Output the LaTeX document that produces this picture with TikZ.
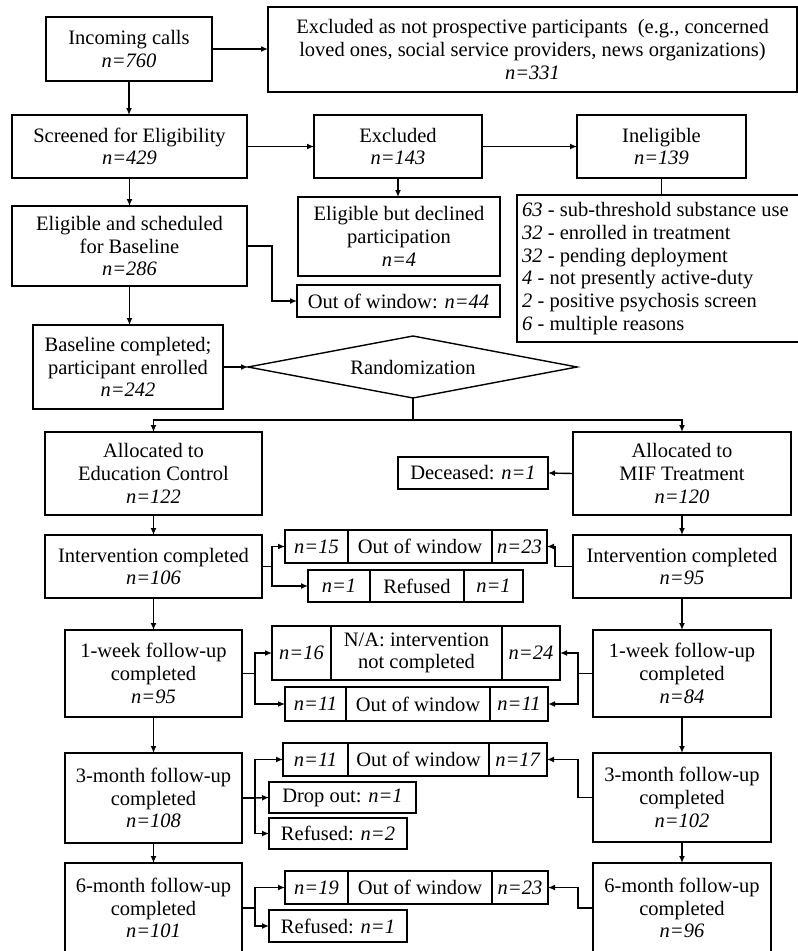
\documentclass[tikz,border=0pt]{standalone}
\usepackage{fontspec}
\setmainfont{Liberation Serif}
\usetikzlibrary{arrows.meta}
\tikzset{
  every node/.style={font=\fontsize{20.5}{22.7}\selectfont},
  box/.style={draw, line width=1.1pt, align=center, inner sep=0pt, outer sep=0pt},
  cellbox/.style={draw, line width=1.9pt, align=center, inner sep=0pt, outer sep=0pt},
  arr/.style={line width=1.4pt, -{Latex[length=7pt,width=6pt]}},
  lnk/.style={line width=1.4pt},
}
\newcommand\mybox[7][box]{\node[#1, minimum width={#5-#3}, minimum height={#6-#4}] (#2) at ({(#3+#5)/2},{(#4+#6)/2}) {#7};}
\begin{document}
\begin{tikzpicture}[x=1pt,y=-1pt]
\useasboundingbox (0,0) rectangle (798,951);
\fill[white] (0,0) rectangle (798,951);
% top part
\mybox{inc}{46}{17}{212}{81}{Incoming calls\\\textit{n=760}}
\mybox{exa}{268}{7}{797}{92}{Excluded as not prospective participants\ \ (e.g., concerned\\loved ones, social service providers, news organizations)\\\textit{n=331}}
\mybox{scr}{12}{115}{247}{178}{Screened for Eligibility\\\textit{n=429}}
\mybox{exb}{314}{115}{482}{178}{Excluded\\\textit{n=143}}
\mybox{inel}{577}{115}{746}{178}{Ineligible\\\textit{n=139}}
\mybox{elig}{12}{206}{247}{286}{Eligible and scheduled\\for Baseline\\\textit{n=286}}
\mybox{decl}{298}{197}{500}{276}{Eligible but declined\\participation\\\textit{n=4}}
\mybox{list}{517}{195}{806}{342}{}
\node[align=left, anchor=west, inner sep=0pt] (listtxt) at (522,268.5)
 {\textit{63} - sub-threshold substance use\\
  \textit{32} - enrolled in treatment\\
  \textit{32} - pending deployment\\
  \textit{4} - not presently active-duty\\
  \textit{2} - positive psychosis screen\\
  \textit{6} - multiple reasons};
\mybox{oow}{297}{285}{500}{317}{Out of window: \textit{n=44}}
\mybox{base}{33}{325}{223}{409}{Baseline completed;\\participant enrolled\\\textit{n=242}}
% randomization diamond
\coordinate (rl) at (248,367);
\coordinate (rt) at (413,336);
\coordinate (rr) at (577,367);
\coordinate (rb) at (413,398);
\draw[line width=1.4pt] (rl) -- (rt) -- (rr) -- (rb) -- cycle;
\node (rand) at (413,367) {Randomization};
% allocation
\mybox{allE}{45}{432}{262}{515}{Allocated to\\Education Control\\\textit{n=122}}
\mybox{allM}{573}{432}{791}{515}{Allocated to\\MIF Treatment\\\textit{n=120}}
\mybox{dec}{398}{457}{548}{489}{Deceased: \textit{n=1}}
\mybox{intL}{45}{535}{262}{598}{Intervention completed\\\textit{n=106}}
\mybox{intR}{573}{535}{791}{598}{Intervention completed\\\textit{n=95}}
\mybox{wkL}{65}{630}{242}{717}{1-week follow-up\\completed\\\textit{n=95}}
\mybox{wkR}{593}{630}{771}{717}{1-week follow-up\\completed\\\textit{n=84}}
\mybox{mtL}{65}{753}{242}{843}{3-month follow-up\\completed\\\textit{n=108}}
\mybox{mtR}{593}{753}{771}{842}{3-month follow-up\\completed\\\textit{n=102}}
\mybox{msL}{65}{863}{242}{953}{6-month follow-up\\completed\\\textit{n=101}}
\mybox{msR}{593}{863}{771}{953}{6-month follow-up\\completed\\\textit{n=96}}
\mybox{drop}{269}{782}{416}{813}{Drop out: \textit{n=1}}
\mybox{refB}{269}{818}{407}{849}{Refused: \textit{n=2}}
\mybox{refC}{269}{910}{407}{942}{Refused: \textit{n=1}}
% split boxes
\mybox[cellbox]{oAa}{285}{530}{348}{563}{\textit{n=15}}
\mybox[cellbox]{oAb}{348}{530}{492}{563}{Out of window}
\mybox[cellbox]{oAc}{492}{530}{547}{563}{\textit{n=23}}
\mybox[cellbox]{rAa}{308}{570}{370}{602}{\textit{n=1}}
\mybox[cellbox]{rAb}{370}{570}{464}{602}{Refused}
\mybox[cellbox]{rAc}{464}{570}{523}{602}{\textit{n=1}}
\mybox[cellbox]{naa}{272}{626}{331}{680}{\textit{n=16}}
\mybox[cellbox]{nab}{331}{626}{502}{680}{N/A: intervention\\not completed}
\mybox[cellbox]{nac}{502}{626}{560}{680}{\textit{n=24}}
\mybox[cellbox]{oBa}{285}{687}{346}{721}{\textit{n=11}}
\mybox[cellbox]{oBb}{346}{687}{490}{721}{Out of window}
\mybox[cellbox]{oBc}{490}{687}{548}{721}{\textit{n=11}}
\mybox[cellbox]{oCa}{283}{743}{348}{776}{\textit{n=11}}
\mybox[cellbox]{oCb}{348}{743}{489}{776}{Out of window}
\mybox[cellbox]{oCc}{489}{743}{547}{776}{\textit{n=17}}
\mybox[cellbox]{oDa}{285}{871}{348}{904}{\textit{n=19}}
\mybox[cellbox]{oDb}{348}{871}{492}{904}{Out of window}
\mybox[cellbox]{oDc}{492}{871}{548}{904}{\textit{n=23}}
% connectors top
\draw[arr] (inc.south) -- (inc.south |- scr.north);
\draw[arr] (inc.east) -- (inc.east -| exa.west);
\draw[arr] (scr.south) -- (scr.south |- elig.north);
\draw[arr] (scr.east) -- (scr.east -| exb.west);
\draw[arr] (exb.east) -- (exb.east -| inel.west);
\draw[arr] (exb.south) -- (exb.south |- decl.north);
\draw[lnk] (inel.south) -- (inel.south |- list.north);
\draw[arr] (elig.east) -- ++(25,0) |- (oow.west);
\draw[arr] (elig.south) -- (elig.south |- base.north);
\draw[arr] (base.east) -- (rl);
\coordinate (split) at (413,420);
\draw[lnk] (rb) -- (split);
\draw[arr] (split) -| (allE.north);
\draw[arr] (split) -| (allM.north);
\draw[arr] (allM.west) -- (dec.east);
\draw[arr] (allE.south) -- (intL.north);
\draw[arr] (allM.south) -- (intR.north);
\draw[arr] (intL.south) -- (wkL.north);
\draw[arr] (intR.south) -- (wkR.north);
\draw[arr] (wkL.south) -- (mtL.north);
\draw[arr] (wkR.south) -- (mtR.north);
\draw[arr] (mtL.south) -- (msL.north);
\draw[arr] (mtR.south) -- (msR.north);
% side branches
\coordinate (bA) at (272,566.5);
\draw[lnk] (intL.east) -- (bA);
\draw[arr] (bA) |- (oAa.west);
\draw[arr] (bA) |- (rAa.west);
\draw[arr] (intR.west) -- ++(-18,0) |- (oAc.east);
\coordinate (bB) at (255,673.5);
\draw[lnk] (wkL.east) -- (bB);
\draw[arr] (bB) |- (naa.west);
\draw[arr] (bB) |- (oBa.west);
\coordinate (bBr) at (578,673.5);
\draw[lnk] (wkR.west) -- (bBr);
\draw[arr] (bBr) |- (nac.east);
\draw[arr] (bBr) |- (oBc.east);
\coordinate (bC) at (255,798);
\draw[lnk] (mtL.east) -- (bC);
\draw[arr] (bC) |- (oCa.west);
\draw[arr] (bC) -- (drop.west);
\draw[arr] (bC) |- (refB.west);
\draw[arr] (mtR.west) -- ++(-15,0) |- (oCc.east);
\coordinate (bD) at (255,908);
\draw[lnk] (msL.east) -- (bD);
\draw[arr] (bD) |- (oDa.west);
\draw[arr] (bD) |- (refC.west);
\draw[arr] (msR.west) -- ++(-15,0) |- (oDc.east);
\end{tikzpicture}
\end{document}
